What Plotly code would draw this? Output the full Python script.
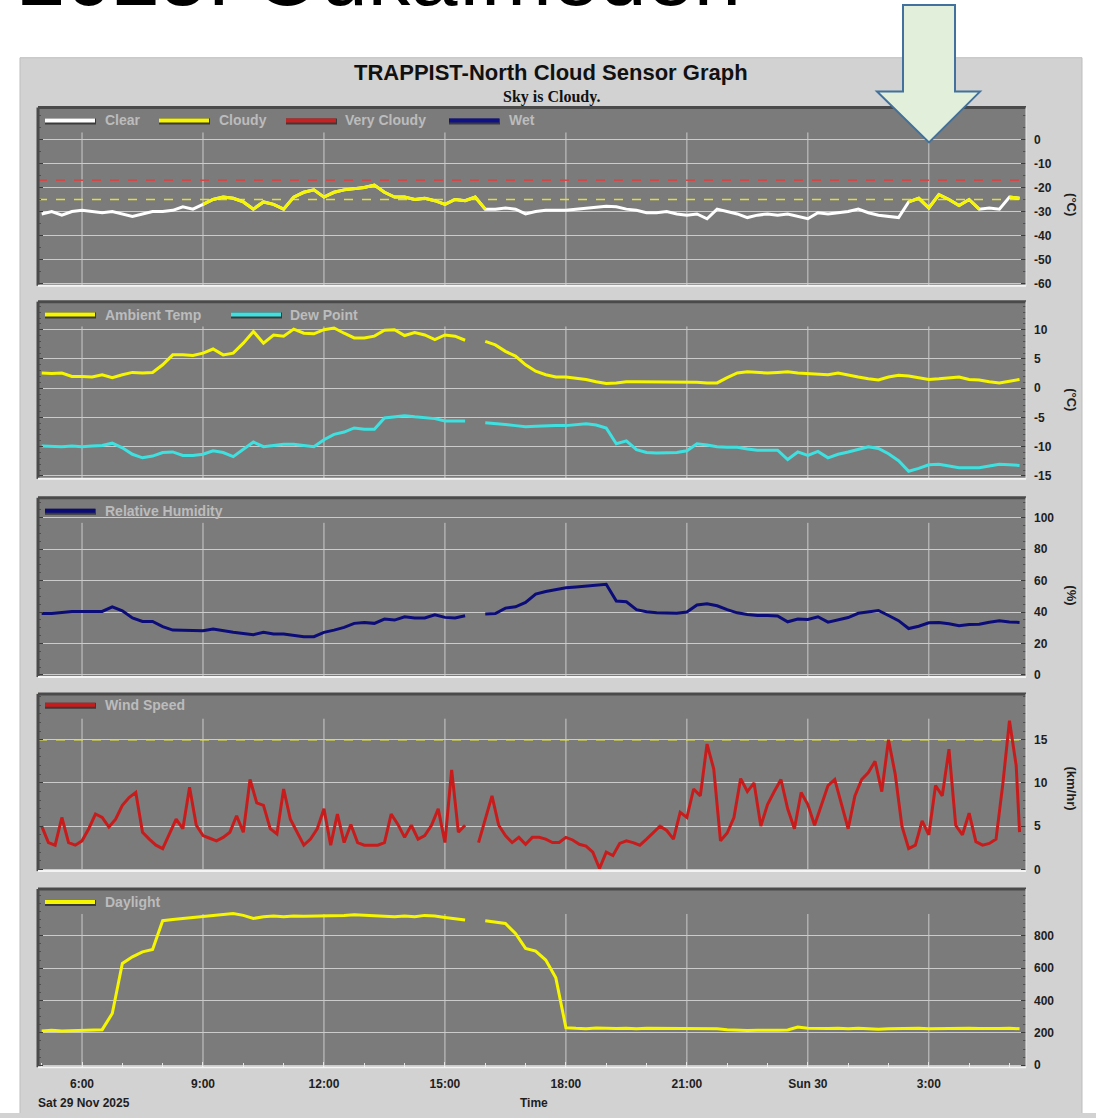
import pandas as pd
import plotly.graph_objects as go

W, H = 1096, 1118


def px(x):
    return x / W


def py(y):
    return 1 - y / H


# ---------------------------------------------------------------- data
START = "2025-11-29 05:00"   # first sample, 15-minute series (until 05:15 next day)

# sky temperature (deg C), 15-min steps, one row per hour
sky_temp = [
    -31, -30, -31.5, -30,          # 05
    -29.5, -30, -30.5, -30,        # 06
    -31, -32, -31, -30,            # 07
    -30, -29.5, -28, -29,          # 08
    -27, -25, -24, -24.5,          # 09
    -26, -29, -26, -27,            # 10
    -29, -24, -22, -21,            # 11
    -24, -22, -21, -20.5,          # 12
    -20, -19, -22, -24,            # 13
    -24, -25, -24.5, -25.5,        # 14
    -27, -25, -25.5, -24,          # 15
    -29, -29, -28.5, -29,          # 16
    -31, -30, -29.5, -29.5,        # 17
    -29.5, -29, -28.5, -28,        # 18
    -27.8, -28, -29, -29.5,        # 19
    -30.5, -30.5, -30, -31,        # 20
    -31.5, -31, -33, -29,          # 21
    -30, -31, -32.5, -31.5,        # 22
    -31, -31.5, -31, -32,          # 23
    -33, -30.5, -31, -30.5,        # 00
    -30, -29, -30.5, -31.5,        # 01
    -32, -32.5, -26, -24.5,        # 02
    -28.5, -23, -25, -27.5,        # 03
    -25, -29, -28.5, -29,          # 04
    -24, -24.5,                    # 05
]

ambient_temp = [
    2.6, 2.5, 2.6, 2.0,
    2.0, 1.9, 2.3, 1.8,
    2.3, 2.7, 2.6, 2.7,
    4.0, 5.7, 5.7, 5.6,
    6.0, 6.7, 5.7, 6.0,
    7.7, 9.7, 7.7, 9.1,
    8.9, 10.1, 9.4, 9.3,
    10.0, 10.3, 9.4, 8.6,
    8.6, 8.9, 9.9, 10.0,
    9.0, 9.5, 9.1, 8.3,
    9.1, 8.9, 8.2, None,
    8.0, 7.4, 6.3, 5.5,
    4.0, 2.9, 2.3, 1.9,
    1.9, 1.7, 1.5, 1.1,
    0.8, 0.9, 1.1, 1.1,
    1.1, 1.1, 1.1, 1.1,
    1.1, 1.0, 0.9, 0.9,
    1.8, 2.6, 2.8, 2.7,
    2.6, 2.7, 2.8, 2.6,
    2.5, 2.4, 2.3, 2.6,
    2.2, 1.9, 1.6, 1.4,
    1.9, 2.2, 2.1, 1.8,
    1.5, 1.6, 1.7, 1.9,
    1.5, 1.4, 1.1, 0.9,
    1.2, 1.5,
]

dew_point = [
    -9.9, -10.0, -10.0, -9.9,
    -10.0, -9.9, -9.8, -9.4,
    -10.2, -11.3, -11.9, -11.6,
    -11.0, -10.9, -11.5, -11.5,
    -11.3, -10.7, -11.0, -11.7,
    -10.5, -9.2, -10.0, -9.8,
    -9.6, -9.6, -9.8, -10.0,
    -8.8, -7.9, -7.5, -6.8,
    -7.0, -7.0, -5.1, -4.9,
    -4.7, -4.9, -5.1, -5.2,
    -5.6, -5.6, -5.6, None,
    -5.9, -6.0, -6.2, -6.4,
    -6.6, -6.5, -6.4, -6.4,
    -6.4, -6.2, -6.1, -6.3,
    -6.8, -9.5, -9.0, -10.5,
    -11.0, -11.1, -11.1, -11.0,
    -10.7, -9.5, -9.7, -10.0,
    -10.1, -10.1, -10.4, -10.6,
    -10.6, -10.6, -12.2, -10.9,
    -11.5, -10.8, -11.9, -11.3,
    -10.9, -10.5, -10.0, -10.3,
    -11.2, -12.4, -14.2, -13.7,
    -13.1, -13.0, -13.3, -13.6,
    -13.6, -13.6, -13.3, -13.0,
    -13.1, -13.2,
]

humidity = [
    39.1, 39.0, 39.7, 40.4,
    40.4, 40.4, 40.4, 43.3,
    40.8, 36.2, 34.0, 34.0,
    30.7, 28.5, 28.5, 28.1,
    28.1, 29.2, 28.1, 27.1,
    26.4, 25.6, 27.1, 26.0,
    26.0, 25.0, 24.3, 24.3,
    27.1, 28.5, 30.2, 32.8,
    33.4, 32.8, 35.5, 34.9,
    37.0, 36.2, 36.2, 38.3,
    36.6, 36.2, 37.6, None,
    38.7, 39.1, 42.5, 43.3,
    46.1, 51.4, 53.1, 54.5,
    55.5, 56.0, 56.5, 57.0,
    57.7, 47.0, 46.5, 41.5,
    40.2, 39.5, 39.6, 39.3,
    40.0, 44.5, 45.3, 44.0,
    41.5, 39.5, 38.5, 37.8,
    37.8, 37.5, 33.8, 35.5,
    35.3, 37.0, 33.6, 35.0,
    36.5, 39.2, 40.0, 41.0,
    37.8, 34.5, 29.5, 31.0,
    33.2, 33.4, 32.5, 31.3,
    32.0, 32.3, 33.5, 34.4,
    33.6, 33.4,
]

daylight = [
    212, 216, 212, 213,
    214, 215, 220, 320,
    629, 670, 701, 715,
    893, 901, 907, 913,
    922, 926, 930, 938,
    926, 907, 918, 922,
    918, 922, 921, 922,
    922, 921, 925, 930,
    928, 924, 922, 918,
    922, 918, 926, 922,
    913, 907, 897, None,
    893, 885, 876, 814,
    722, 705, 650, 540,
    232, 228, 226, 230,
    228, 227, 229, 226,
    228, 228, 229, 227,
    228, 226, 227, 225,
    220, 216, 215, 216,
    215, 216, 218, 236,
    228, 226, 227, 228,
    225, 229, 224, 222,
    226, 228, 227, 229,
    226, 227, 228, 230,
    228, 227, 229, 227,
    228, 226,
]

# wind speed (km/hr), 10-min steps 05:00 .. 05:10 next day, then 05:15
wind_speed = [
    5.0, 3.1, 2.8, 6.0, 3.1, 2.8,        # 05
    3.3, 4.7, 6.4, 6.0, 4.9, 5.8,        # 06
    7.4, 8.3, 8.9, 4.3, 3.5, 2.8,        # 07
    2.4, 4.1, 5.8, 4.7, 9.5, 5.1,        # 08
    3.9, 3.6, 3.3, 3.7, 4.3, 6.2,        # 09
    4.3, 10.4, 7.7, 7.4, 4.7, 4.1,       # 10
    9.3, 5.8, 4.3, 2.8, 3.5, 4.7,        # 11
    7.0, 2.8, 6.4, 3.1, 5.2, 3.1,        # 12
    2.8, 2.8, 2.8, 3.1, 6.4, 5.2,        # 13
    3.7, 5.1, 3.5, 3.9, 5.1, 7.0,        # 14
    3.1, 11.5, 4.3, 5.1, None, 3.1,      # 15
    5.8, 8.5, 5.1, 3.9, 3.1, 3.7,        # 16
    2.9, 3.7, 3.7, 3.5, 3.1, 3.1,        # 17
    3.7, 3.4, 2.9, 2.7, 2.0, 0.1,        # 18
    2.0, 1.6, 3.0, 3.3, 3.1, 2.8,        # 19
    3.5, 4.2, 5.0, 4.5, 3.5, 6.6,        # 20
    6.0, 9.3, 8.5, 14.5, 11.6, 3.3,      # 21
    4.2, 6.0, 10.5, 9.0, 10.0, 5.0,      # 22
    7.5, 9.0, 10.4, 7.0, 4.7, 8.9,       # 23
    7.5, 5.1, 7.5, 9.7, 10.4, 7.7,       # 00
    4.7, 8.5, 10.4, 11.2, 12.5, 9.0,     # 01
    15.0, 11.0, 5.0, 2.4, 2.8, 5.6,      # 02
    4.0, 9.7, 8.5, 13.9, 5.1, 4.0,       # 03
    6.5, 3.2, 2.8, 3.0, 3.5, 9.8,        # 04
    17.2, 12.0,                          # 05:00, 05:10
    4.3,                                 # 05:15
]

very_cloudy_limit = -17   # deg C, red dashed
cloudy_limit = -25        # deg C, yellow dashed
colour_switch = -27.2     # sky trace drawn yellow above this
wind_limit = 15           # km/hr, yellow dashed

sky_labels = ["Clear", "Cloudy", "Very Cloudy", "Wet"]
temp_labels = ["Ambient Temp", "Dew Point"]
x_tick_labels = ["6:00", "9:00", "12:00", "15:00", "18:00", "21:00", "Sun 30", "3:00"]

assert len(sky_temp) == len(ambient_temp) == len(dew_point) == 98
assert len(humidity) == len(daylight) == 98
assert len(wind_speed) == 147

t15 = pd.date_range(START, periods=98, freq="15min")
t10 = pd.date_range(START, periods=146, freq="10min").append(
    pd.DatetimeIndex(["2025-11-30 05:15"]))
x_tick_times = pd.date_range("2025-11-29 06:00", periods=8, freq="3h")
x_minor_times = pd.date_range("2025-11-29 05:00", "2025-11-30 05:00", freq="1h")
x_range = ["2025-11-29 04:54:30", "2025-11-30 05:24:36"]

# ---------------------------------------------------------------- styling
FONT = "Liberation Sans, Arial, sans-serif"
WHITE, YELLOW, RED, BLUE = "#ffffff", "#f6f600", "#cc2020", "#101088"
CYAN, NAVY, WIND = "#3fe0e0", "#0c0c78", "#c81c1c"
PANEL_BG = "#7b7b7b"
CARD_BG = "#d2d2d2"
GRID = "#cbcbcb"

panel_px = [(108, 287), (303, 481), (500, 680), (697, 875), (893, 1072)]
y_ranges = [[-60.8, 13.2], [-15.5, 14.8], [-1.3, 112.7], [-0.2, 20.3], [-12, 1089]]
y_ticks = [list(range(-60, 1, 10)), list(range(-15, 11, 5)), list(range(0, 101, 20)),
           [0, 5, 10, 15], list(range(0, 801, 200))]
y_minor = [5, 1, 5, 1, 50]

fig = go.Figure()

# ---- panel 1: sky temperature (white = clear, yellow = cloudy)
cloudy = [v is not None and v > colour_switch for v in sky_temp]
sky_yellow = [v if (cloudy[i] or (i > 0 and cloudy[i - 1])) else None
              for i, v in enumerate(sky_temp)]
fig.add_trace(go.Scatter(x=t15, y=sky_temp, mode="lines", line=dict(color=WHITE, width=3),
                         xaxis="x", yaxis="y", hoverinfo="skip"))
fig.add_trace(go.Scatter(x=t15, y=sky_yellow, mode="lines", line=dict(color=YELLOW, width=3),
                         xaxis="x", yaxis="y", hoverinfo="skip"))
# ---- panel 2
fig.add_trace(go.Scatter(x=t15, y=ambient_temp, mode="lines", line=dict(color=YELLOW, width=3),
                         xaxis="x2", yaxis="y2"))
fig.add_trace(go.Scatter(x=t15, y=dew_point, mode="lines", line=dict(color=CYAN, width=3),
                         xaxis="x2", yaxis="y2"))
# ---- panel 3
fig.add_trace(go.Scatter(x=t15, y=humidity, mode="lines", line=dict(color=NAVY, width=3),
                         xaxis="x3", yaxis="y3"))
# ---- panel 4
fig.add_trace(go.Scatter(x=t10, y=wind_speed, mode="lines", line=dict(color=WIND, width=3),
                         xaxis="x4", yaxis="y4"))
# ---- panel 5
fig.add_trace(go.Scatter(x=t15, y=daylight, mode="lines", line=dict(color=YELLOW, width=3),
                         xaxis="x5", yaxis="y5"))

layout = {}
shapes = []
# white page around the light-grey chart card (paper itself is the card colour)
for x0, y0, x1, y1 in [(0, 0, 1096, 58), (0, 0, 20, 1118), (1082, 0, 1096, 1118)]:
    shapes.append(dict(type="rect", xref="paper", yref="paper", x0=px(x0), x1=px(x1),
                       y0=py(y1), y1=py(y0), fillcolor="#ffffff", line=dict(width=0),
                       layer="below"))
card_edge = (f"M {px(20):.5f},0 L {px(20):.5f},{py(58):.5f} "
             f"L {px(1082):.5f},{py(58):.5f} L {px(1082):.5f},0")
shapes.append(dict(type="path", xref="paper", yref="paper", path=card_edge,
                   line=dict(color="#bdbdbd", width=1), layer="below"))

for k in range(5):
    n = "" if k == 0 else str(k + 1)
    top, bot = panel_px[k]
    layout[f"xaxis{n}"] = dict(
        domain=[px(38), px(1026)], range=x_range, type="date", anchor=f"y{n}",
        showgrid=False, zeroline=False, showline=False,
        tickmode="array", tickvals=x_tick_times, ticktext=x_tick_labels,
        showticklabels=(k == 4), ticks="inside" if k == 4 else "", ticklen=5,
        tickcolor="#e6e6e6", ticklabelstandoff=8,
        tickfont=dict(family=FONT, size=12, color="#1e1e1e", weight="bold"),
        minor=dict(ticks="inside", tickvals=x_minor_times, ticklen=4, tickcolor="#e6e6e6")
        if k == 4 else None,
    )
    layout[f"yaxis{n}"] = dict(
        domain=[py(bot), py(top)], range=y_ranges[k], anchor=f"x{n}", side="right",
        tickmode="array", tickvals=y_ticks[k], ticktext=[str(v) for v in y_ticks[k]],
        showgrid=True, gridcolor=GRID, gridwidth=1, zeroline=False, showline=False,
        ticks="inside", ticklen=5, tickcolor="#3c3c3c", mirror="ticks",
        minor=dict(ticks="inside", dtick=y_minor[k], ticklen=3, tickcolor="#505050"),
        ticklabelstandoff=7,
        tickfont=dict(family=FONT, size=12, color="#1e1e1e", weight="bold"),
    )
    xr, yr = f"x{n}", f"y{n}"
    # vertical grid lines (stop below the legend row)
    for tt in x_tick_times:
        shapes.append(dict(type="line", xref=xr, yref=f"{yr} domain", x0=tt, x1=tt,
                           y0=0, y1=0.86, line=dict(color=GRID, width=1), layer="below"))
    # 3-D looking frame
    shapes.append(dict(type="line", xref=f"{xr} domain", yref=f"{yr} domain",
                       x0=0, x1=1, y0=1, y1=1, line=dict(color="#4a4a4a", width=3)))
    shapes.append(dict(type="line", xref=f"{xr} domain", yref=f"{yr} domain",
                       x0=0, x1=0, y0=0, y1=1, line=dict(color="#4a4a4a", width=3)))
    shapes.append(dict(type="line", xref=f"{xr} domain", yref=f"{yr} domain",
                       x0=0, x1=1, y0=0, y1=0, line=dict(color="#f4f4f4", width=2)))
    shapes.append(dict(type="line", xref=f"{xr} domain", yref=f"{yr} domain",
                       x0=1, x1=1, y0=0, y1=1, line=dict(color="#e8e8e8", width=1)))

# threshold lines
for val, col, ax in [(very_cloudy_limit, "#d04848", ""), (cloudy_limit, "#e0e030", ""),
                     (wind_limit, "#ecec3a", "4")]:
    shapes.append(dict(type="line", xref=f"x{ax} domain", yref=f"y{ax}", x0=0, x1=1,
                       y0=val, y1=val, line=dict(color=col, width=1.5, dash="dash"),
                       layer="below"))

# legend rows (swatch + label) inside each panel
legend_rows = [
    (121, [(sky_labels[0], WHITE, 45, 103), (sky_labels[1], YELLOW, 159, 217),
           (sky_labels[2], RED, 286, 343), (sky_labels[3], BLUE, 449, 507)]),
    (316, [(temp_labels[0], YELLOW, 45, 103), (temp_labels[1], CYAN, 231, 288)]),
    (513, [("Relative Humidity", NAVY, 45, 103)]),
    (708, [("Wind Speed", WIND, 45, 103)]),
    (906, [("Daylight", YELLOW, 45, 103)]),
]
annotations = []
for ypx, items in legend_rows:
    for label, col, sx, tx in items:
        shapes.append(dict(type="line", xref="paper", yref="paper", x0=px(sx), x1=px(sx + 51),
                           y0=py(ypx + 1), y1=py(ypx + 1), line=dict(color="#3a3a3a", width=6)))
        shapes.append(dict(type="line", xref="paper", yref="paper", x0=px(sx), x1=px(sx + 50),
                           y0=py(ypx), y1=py(ypx), line=dict(color=col, width=4)))
        annotations.append(dict(text=label, xref="paper", yref="paper", x=px(tx), y=py(ypx),
                                xanchor="left", yanchor="middle", showarrow=False,
                                font=dict(family=FONT, size=14, color="#bcbcbc", weight="bold")))

# unit labels (rotated clockwise)
for text, ypx in [("(°C)", 205), ("(°C)", 401), ("(%)", 598), ("(km/hr)", 792)]:
    annotations.append(dict(text=text, xref="paper", yref="paper", x=px(1072), y=py(ypx),
                            xanchor="center", yanchor="middle", textangle=90, showarrow=False,
                            font=dict(family=FONT, size=13, color="#1e1e1e", weight="bold")))

# titles
annotations += [
    dict(text="TRAPPIST-North Cloud Sensor Graph", xref="paper", yref="paper", x=px(551),
         y=py(73), xanchor="center", yanchor="middle", showarrow=False,
         font=dict(family=FONT, size=22, color="#111111", weight="bold")),
    dict(text="Sky is Cloudy.", xref="paper", yref="paper", x=px(551), y=py(97),
         xanchor="center", yanchor="middle", showarrow=False,
         font=dict(family="Liberation Serif, Times New Roman, serif", size=16,
                   color="#111111", weight="bold")),
    dict(text="Sat 29 Nov 2025", xref="paper", yref="paper", x=px(36), y=py(1108),
         xanchor="left", yanchor="middle", showarrow=False,
         font=dict(family=FONT, size=12, color="#1e1e1e", weight="bold")),
    dict(text="Time", xref="paper", yref="paper", x=px(534), y=py(1108),
         xanchor="center", yanchor="middle", showarrow=False,
         font=dict(family=FONT, size=12, color="#1e1e1e", weight="bold")),
    dict(text="2025: Oukaïmeden", xref="paper", yref="paper", x=px(16), y=py(25),
         xanchor="left", yanchor="bottom", showarrow=False,
         font=dict(family=FONT, size=85, color="#000000")),
]

# green call-out arrow
arrow_pts = [(903, 5), (955, 5), (955, 92), (980, 92), (929, 143), (877, 92), (903, 92)]
arrow_path = "M " + " L ".join(f"{px(x):.5f},{py(y):.5f}" for x, y in arrow_pts) + " Z"
shapes.append(dict(type="path", xref="paper", yref="paper", path=arrow_path,
                   fillcolor="#e2efda", line=dict(color="#41719c", width=2), layer="above"))

fig.update_layout(
    width=W, height=H, margin=dict(l=0, r=0, t=0, b=0),
    paper_bgcolor=CARD_BG, plot_bgcolor=PANEL_BG, showlegend=False,
    shapes=shapes, annotations=annotations, **layout,
)

fig.write_html("out.html")
